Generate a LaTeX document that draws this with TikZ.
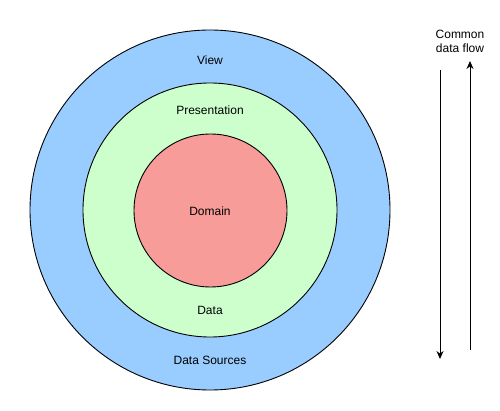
\documentclass[tikz,border=0pt]{standalone}
\usepackage{fontspec}
\setmainfont{Liberation Sans}
\usetikzlibrary{arrows.meta}
\begin{document}
\begin{tikzpicture}[x=1pt,y=-1pt,
  ring/.style={circle,draw=black,line width=0.9pt,inner sep=0pt},
  lbl/.style={font=\fontsize{12}{14}\selectfont,text=black},
  flow/.style={line width=1pt,-{Stealth[length=8pt,width=7pt]}}]
\useasboundingbox (0,0) rectangle (500,411);
\node[ring,fill={rgb,255:red,153;green,204;blue,255},minimum size=360pt] (outer) at (210,210) {};
\node[ring,fill={rgb,255:red,204;green,255;blue,204},minimum size=254pt] (mid) at (210,210) {};
\node[ring,fill={rgb,255:red,248;green,156;blue,153},minimum size=153pt] (inner) at (210.5,210.5) {};
\node[lbl] (view) at (210,60) {View};
\node[lbl] (pres) at (210,110) {Presentation};
\node[lbl] (dom) at (210,211) {Domain};
\node[lbl] (data) at (210,310) {Data};
\node[lbl] (src) at (210,360) {Data Sources};
\node[lbl,align=center] (common) at (460,41) {Common\\data flow};
\coordinate (d1) at (440,70);
\coordinate (d2) at (440,359);
\coordinate (u1) at (470,350);
\coordinate (u2) at (470,61);
\draw[flow] (d1) -- (d2);
\draw[flow] (u1) -- (u2);
\end{tikzpicture}
\end{document}
